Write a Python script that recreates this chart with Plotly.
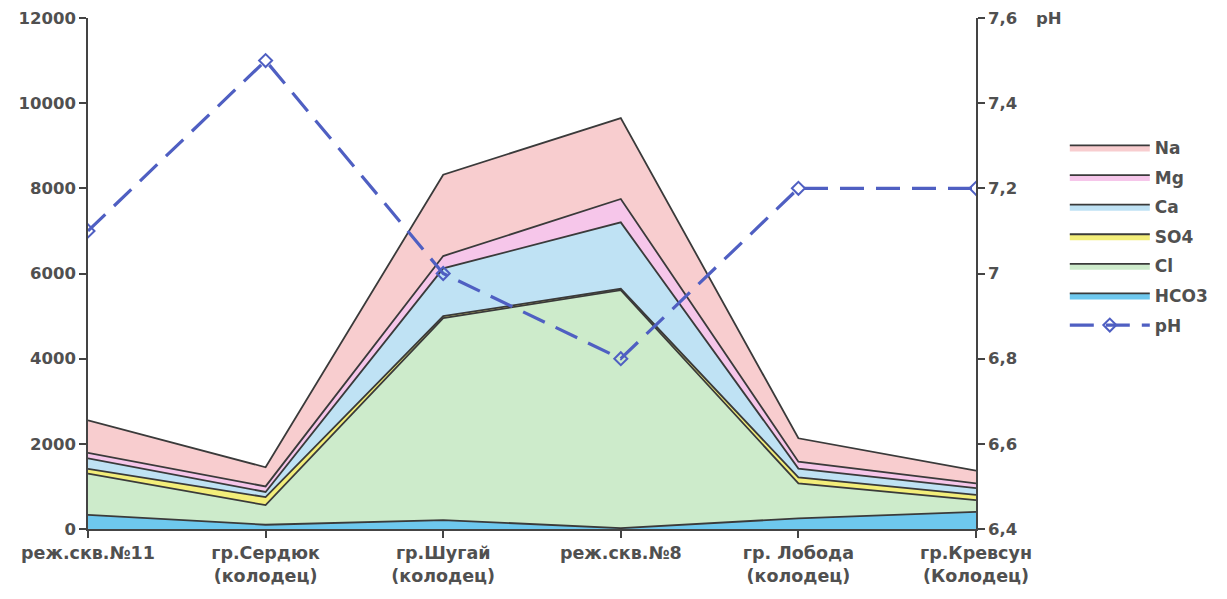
import plotly.graph_objects as go

categories = ["реж.скв.№11", "гр.Сердюк<br>(колодец)", "гр.Шугай<br>(колодец)",
              "реж.скв.№8", "гр. Лобода<br>(колодец)", "гр.Кревсун<br>(Колодец)"]
hco3 = [330, 100, 210, 20, 250, 400]
cl = [970, 460, 4740, 5590, 820, 280]
so4 = [110, 190, 50, 30, 140, 120]
ca = [250, 120, 1120, 1560, 210, 160]
mg = [130, 130, 290, 550, 160, 110]
na = [760, 450, 1910, 1900, 550, 300]
ph = [7.1, 7.5, 7.0, 6.8, 7.2, 7.2]

left_ticks = [0, 2000, 4000, 6000, 8000, 10000, 12000]
right_ticks = [6.4, 6.6, 6.8, 7.0, 7.2, 7.4, 7.6]
right_labels = ["6,4", "6,6", "6,8", "7", "7,2", "7,4", "7,6"]

series = [
    ("HCO3", hco3, "#6EC8EE"),
    ("Cl", cl, "#CDEBCB"),
    ("SO4", so4, "#F3EE7A"),
    ("Ca", ca, "#BFE2F4"),
    ("Mg", mg, "#F6C6EA"),
    ("Na", na, "#F8CDCF"),
]

FONT = "DejaVu Sans, Liberation Sans, Arial, sans-serif"
TXT = "#505050"

x = list(range(len(categories)))
fig = go.Figure()
for i, (name, vals, col) in enumerate(series):
    fig.add_trace(go.Scatter(
        x=x, y=vals, name="<b>%s</b>" % name, stackgroup="one", mode="lines",
        line=dict(color="#3a3a3a", width=1.8), fillcolor=col,
        legendrank=10 - i, legendgroup=name, hoverinfo="name+y",
    ))

fig.add_trace(go.Scatter(
    x=x, y=ph, name="<b>pH</b>", yaxis="y2", mode="lines+markers",
    line=dict(color="#4F5FC2", width=3.2, dash="24px,12px"),
    marker=dict(symbol="diamond-open", size=10, color="#4F5FC2", line=dict(width=2)),
    legendrank=20, legendgroup="pH",
))

font_y = dict(family=FONT, size=16.5, color=TXT)
font_x = dict(family=FONT, size=17.5, color=TXT)

fig.update_layout(
    width=1219, height=591,
    margin=dict(l=80, r=251, t=10, b=70),
    paper_bgcolor="white", plot_bgcolor="white",
    showlegend=True,
    legend=dict(x=1.1, y=0.781, xanchor="left", yanchor="top", traceorder="grouped",
                font=dict(family=FONT, size=17, color=TXT),
                tracegroupgap=4.5, itemwidth=80, bgcolor="rgba(0,0,0,0)"),
    xaxis=dict(
        tickmode="array", tickvals=x, ticktext=["<b>%s</b>" % c for c in categories],
        range=[0, 5], showgrid=False, zeroline=False, automargin=False,
        showline=True, linecolor="#444", linewidth=1.5,
        ticks="outside", ticklen=7, tickcolor="#444", tickwidth=1.5,
        tickfont=font_x,
    ),
    yaxis=dict(
        range=[0, 12000], tickvals=left_ticks, automargin=False,
        ticktext=["<b>%d</b>" % t for t in left_ticks],
        showgrid=False, zeroline=False, showline=True, linecolor="#444", linewidth=1.5,
        ticks="outside", ticklen=7, tickcolor="#444", tickwidth=1.5, tickfont=font_y,
    ),
    yaxis2=dict(
        overlaying="y", side="right", range=[6.4, 7.6], tickvals=right_ticks,
        automargin=False,
        ticktext=["<b>%s</b>" % t for t in right_labels],
        showgrid=False, zeroline=False, showline=True, linecolor="#444", linewidth=1.5,
        ticks="outside", ticklen=7, tickcolor="#444", tickwidth=1.5, tickfont=font_y,
    ),
)

fig.add_annotation(x=1.0, y=1.0, xref="paper", yref="paper", xshift=58,
                   text="<b>pH</b>", showarrow=False, xanchor="left", yanchor="middle",
                   font=dict(family=FONT, size=16.5, color=TXT))

fig.write_html("out.html")
